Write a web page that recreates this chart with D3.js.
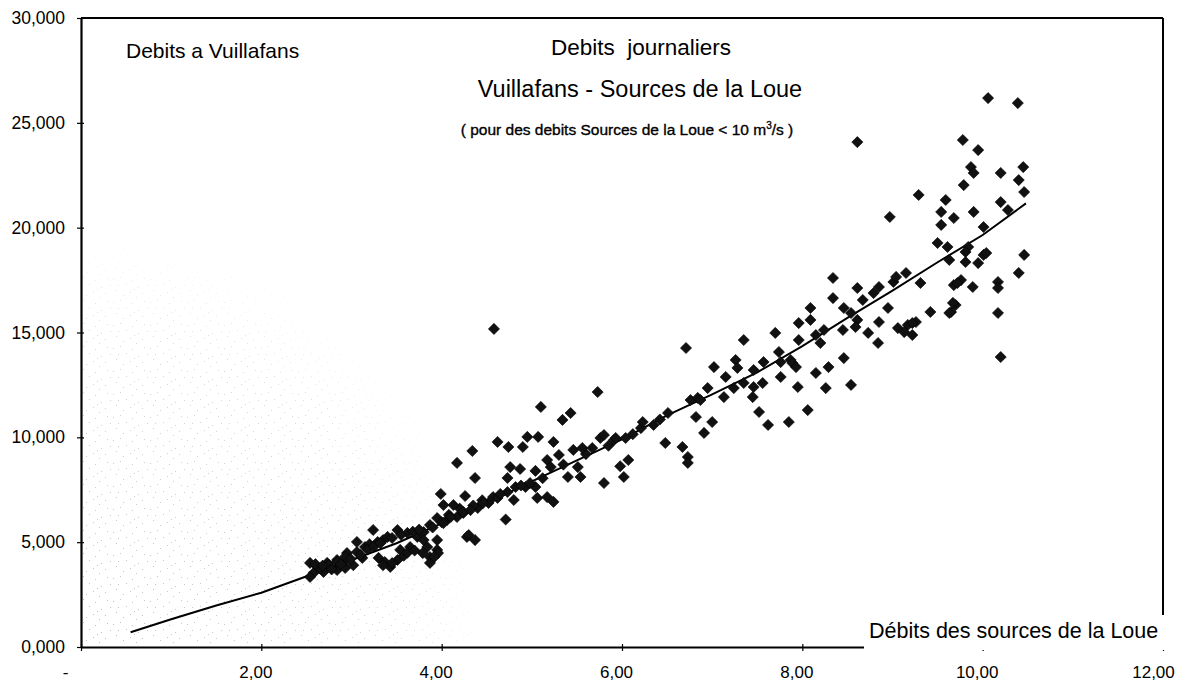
<!DOCTYPE html>
<html>
<head>
<meta charset="utf-8">
<script src="https://cdn.jsdelivr.net/npm/d3@7"></script>
<style>
  html, body { margin: 0; padding: 0; background: #fff; }
  text { font-family: "Liberation Sans", Arial, sans-serif; fill: #000; }
</style>
</head>
<body>
<svg id="chart" width="1194" height="686"></svg>
<script>
// Axis ticks and their printed labels
const xTicks = [0, 2, 4, 6, 8, 10, 12];
const xTickLabels = ["-", "2,00", "4,00", "6,00", "8,00", "10,00", "12,00"];
const yTicks = [0, 5000, 10000, 15000, 20000, 25000, 30000];
const yTickLabels = ["0,000", "5,000", "10,000", "15,000", "20,000", "25,000", "30,000"];

// Daily flows: [Sources de la Loue (m3/s), Vuillafans]
const dailyFlows = [
  [2.54,4010],[2.58,3530],[2.62,3820],[2.54,3340],[2.69,3580],[2.73,4010],[2.65,3750],[2.75,3910],
  [2.84,4150],[2.84,3670],[2.93,3770],[2.95,4150],[2.95,4480],[2.84,4070],[2.93,4310],[3.02,3900],
  [3.12,4250],[3.06,4530],[3.15,4770],[3.06,5010],[3.20,4900],[3.35,5100],[3.24,5580],[3.29,5010],
  [3.40,5250],[3.51,5580],[3.62,5440],[3.30,4250],[3.37,4050],[3.43,3820],[3.51,4150],[3.54,4630],
  [3.65,4770],[3.73,5250],[3.80,5480],[3.87,5820],[3.95,6150],[4.06,6060],[4.17,6200],[4.24,6390],
  [4.40,6630],[4.52,6870],[3.84,4770],[3.87,4290],[3.95,4630],[3.80,5100],[3.95,5100],[3.87,4010],
  [3.79,4480],[3.96,4480],
  [2.60,3950],[2.68,3880],[2.78,3700],[2.88,3950],[2.99,4200],[3.10,4400],[3.18,4650],[3.25,4800],
  [3.32,4950],[3.45,5200],[3.55,5350],[3.68,5500],[3.75,5600],[3.90,5700],[4.00,5950],[4.08,6300],
  [4.20,6600],[4.35,6750],[4.45,7000],[3.58,4350],[3.62,4500],[3.70,4600],[3.92,4300],[3.45,4000],
  [3.35,3900],
  [3.99,7300],[4.02,5910],[4.10,6200],[4.13,6770],[4.17,8780],[4.26,7200],[4.24,6440],[4.28,5250],
  [4.30,5340],[4.37,5100],[4.34,9350],[4.37,8060],[4.02,6770],[4.32,6530],[4.46,6870],[4.57,7150],
  [4.62,7110],[4.73,7390],[4.71,6080],
  [4.58,15170],[4.62,9780],[4.74,9540],[4.90,9540],[4.95,10020],[5.07,10020],[5.24,9780],[4.76,8580],
  [4.87,8490],[5.04,8400],[5.17,8920],[5.30,9160],[5.21,8580],[4.73,8060],[4.82,7630],[4.93,7630],
  [5.04,7630],[5.06,7110],[5.17,7150],[4.98,7820],[4.80,7010],[5.24,6920],[5.10,11450],[5.34,10830],
  [5.43,11160],[4.65,7300],[4.88,7700],[5.12,8050],[5.35,8700],[5.60,9200],[5.85,9600],
  [5.46,9400],[5.56,9490],[5.67,9490],[5.76,9970],[5.91,9870],[5.98,8620],[5.51,8580],[5.54,8110],
  [5.40,8110],[5.80,7820],[5.73,12160],[5.80,10110],[5.93,9970],[6.04,9970],[6.07,8920],[6.02,8110],
  [6.21,10440],[6.23,10730],[6.35,10590],[6.51,11160],[6.48,9730],[6.67,9540],[6.73,9060],[6.73,8780],
  [6.71,14260],[6.76,11780],[6.84,11880],[6.87,11780],[6.82,10970],[6.95,12350],[6.91,10210],[7.00,10730],
  [7.02,13350],[6.12,10150],[6.42,10850],
  [7.13,11920],[7.15,12880],[7.24,12350],[7.26,13690],[7.28,13310],[7.35,12590],[7.35,14640],[7.46,12400],
  [7.46,13210],[7.45,11920],[7.52,11210],[7.56,12590],[7.57,13590],[7.62,10590],[7.70,14980],[7.74,14070],
  [7.76,13590],[7.76,12880],[7.85,10730],[7.87,13690],[7.89,13540],[7.93,13350],[7.95,12400],[7.96,15450],
  [7.96,14640],
  [8.06,11300],[8.09,16170],[8.09,15600],[8.15,14880],[8.24,15120],[8.20,14500],[8.15,13070],[8.29,13350],
  [8.46,13780],[8.26,12350],[8.54,12500],[8.34,17600],[8.34,16640],[8.46,16170],[8.54,15930],[8.61,15600],
  [8.59,15260],[8.45,15120],[8.61,17120],[8.67,16550],[8.79,16880],[8.85,17170],[8.73,14980],[8.84,14500],
  [8.85,15500],[8.95,16170],[8.61,24080],[8.97,20510],
  [9.01,17410],[9.15,17840],[9.31,17360],[9.06,15210],[9.17,15360],[9.26,15500],[9.22,14880],[9.13,15020],
  [9.22,15450],[9.42,15980],[9.65,15980],[9.70,16310],[9.68,17260],[9.76,17500],[9.89,17170],[9.50,19270],
  [9.61,19080],[9.63,18460],[9.84,19080],[9.81,18360],[9.95,18310],[10.01,18700],[9.29,21560],[9.59,21320],
  [9.54,20750],[9.68,20460],[9.90,20750],[10.20,21220],[10.28,20840],[9.54,20130],[10.01,20030],[9.81,18840],
  [10.04,18790],[10.46,18700],[10.40,17840],[10.17,17410],[10.17,17120],[10.17,15930],[10.20,13830],[9.72,17360],
  [9.67,16410],[9.63,15930],[9.04,17650],[10.06,26180],[10.39,25940],[9.78,24180],[9.95,23700],[9.87,22890],
  [9.90,22610],[10.20,22610],[10.45,22890],[10.40,22270],[10.46,21700],[9.79,22030]
];

// Fitted trend curve
const trendSources    = [0.55, 1.0, 1.5, 2.0, 2.45, 3.0, 3.5, 4.0, 4.5, 5.0, 5.5, 6.0, 6.5, 7.0, 7.5, 8.0, 8.5, 9.0, 9.5, 10.0, 10.48];
const trendVuillafans = [700, 1320, 1980, 2590, 3290, 4150, 4950, 5900, 6850, 7900, 8900, 9900, 11050, 12050, 13100, 14350, 15700, 17000, 18350, 19650, 21160];

const svg = d3.select("#chart");
const W = 1194, H = 686;
const plot = { left: 81, right: 1163, top: 18, bottom: 647 };

svg.append("rect").attr("width", W).attr("height", H).attr("fill", "#fff");

const x = d3.scaleLinear().domain([0, 12]).range([plot.left, plot.right]);
const y = d3.scaleLinear().domain([0, 30000]).range([plot.bottom, plot.top]);

// faint speckled texture, strongest in the lower-left corner and fading out
const defs = svg.append("defs");
const pat = defs.append("pattern").attr("id", "speck")
  .attr("width", 37).attr("height", 23).attr("patternUnits", "userSpaceOnUse");
[[2,3],[9,1],[15,8],[21,4],[27,11],[33,2],[5,14],[12,19],[19,16],[25,21],[31,17],[36,9],[7,9],[23,13]]
  .forEach(([cx, cy]) =>
    pat.append("rect").attr("x", cx).attr("y", cy).attr("width", 1).attr("height", 1).attr("fill", "#666"));
const grad = defs.append("radialGradient").attr("id", "speckFade")
  .attr("gradientUnits", "userSpaceOnUse")
  .attr("cx", plot.left).attr("cy", plot.bottom).attr("r", 420);
grad.append("stop").attr("offset", 0).attr("stop-color", "#fff").attr("stop-opacity", 1);
grad.append("stop").attr("offset", 0.75).attr("stop-color", "#fff").attr("stop-opacity", 0.6);
grad.append("stop").attr("offset", 1).attr("stop-color", "#fff").attr("stop-opacity", 0);
defs.append("mask").attr("id", "speckMask")
  .append("rect").attr("x", plot.left).attr("y", plot.top).attr("width", 500).attr("height", plot.bottom - plot.top)
  .attr("fill", "url(#speckFade)");
svg.append("rect").attr("x", plot.left + 2).attr("y", plot.top + 2)
  .attr("width", 480).attr("height", plot.bottom - plot.top - 4)
  .attr("fill", "url(#speck)").attr("mask", "url(#speckMask)").attr("opacity", 0.42);

// plot frame: top and right edges
svg.append("line").attr("x1", plot.left).attr("x2", plot.right).attr("y1", plot.top).attr("y2", plot.top)
  .attr("stroke", "#000").attr("stroke-width", 2);
svg.append("line").attr("x1", plot.right).attr("x2", plot.right).attr("y1", plot.top).attr("y2", plot.bottom)
  .attr("stroke", "#000").attr("stroke-width", 2);

// axes
const yAxis = d3.axisLeft(y).tickValues(yTicks).tickFormat((d, i) => yTickLabels[i])
  .tickSizeInner(4).tickSizeOuter(0).tickPadding(12);
const gy = svg.append("g").attr("transform", `translate(${plot.left},0)`).call(yAxis);
gy.select(".domain").attr("stroke-width", 2.2);
gy.selectAll(".tick line").attr("x1", 3).attr("stroke-width", 1.2);
gy.selectAll(".tick text").attr("font-size", 17.5).attr("font-family", "Liberation Sans, Arial, sans-serif");

const xAxis = d3.axisBottom(x).tickValues(xTicks).tickFormat((d, i) => xTickLabels[i])
  .tickSizeInner(4).tickSizeOuter(0).tickPadding(15);
const gx = svg.append("g").attr("transform", `translate(0,${plot.bottom})`).call(xAxis);
gx.select(".domain").attr("stroke-width", 2.2);
gx.selectAll(".tick line").attr("y1", -3).attr("stroke-width", 1.2);
gx.selectAll(".tick text").attr("font-size", 17).attr("font-family", "Liberation Sans, Arial, sans-serif")
  .attr("dx", (d, i) => i === 0 ? -16 : (i === 6 ? -10 : -6));

// trend curve
const trend = trendSources.map((s, i) => [s, trendVuillafans[i]]);
svg.append("path").datum(trend)
  .attr("d", d3.line().x(d => x(d[0])).y(d => y(d[1])))
  .attr("fill", "none").attr("stroke", "#000").attr("stroke-width", 2);

// daily points as diamonds
const diamond = d3.symbol().type(d3.symbolSquare).size(62);
svg.append("g").selectAll("path").data(dailyFlows).join("path")
  .attr("d", diamond)
  .attr("transform", d => `translate(${x(d[0])},${y(d[1])}) rotate(45)`)
  .attr("fill", "#111").attr("stroke", "#000").attr("stroke-width", 0.6);

// x-axis title on a white box
svg.append("rect").attr("x", 864).attr("y", 615).attr("width", 303).attr("height", 35).attr("fill", "#fff");
svg.append("text").attr("x", 869).attr("y", 638).attr("font-size", 21.5).text("Débits des sources de la Loue");

// y-axis title
svg.append("text").attr("x", 126).attr("y", 58).attr("font-size", 21).text("Debits a Vuillafans");

// chart title
svg.append("text").attr("x", 641).attr("y", 55).attr("text-anchor", "middle").attr("font-size", 22.5)
  .style("white-space", "pre").text("Debits  journaliers");
svg.append("text").attr("x", 640).attr("y", 97).attr("text-anchor", "middle").attr("font-size", 23.5)
  .text("Vuillafans - Sources de la Loue");
const sub = svg.append("text").attr("x", 627).attr("y", 135).attr("text-anchor", "middle").attr("font-size", 15.5)
  .attr("stroke", "#000").attr("stroke-width", 0.35);
sub.append("tspan").text("( pour des debits Sources de la Loue < 10 m");
sub.append("tspan").attr("font-size", 10).attr("dy", -6).text("3");
sub.append("tspan").attr("dy", 6).text("/s )");
</script>
</body>
</html>
